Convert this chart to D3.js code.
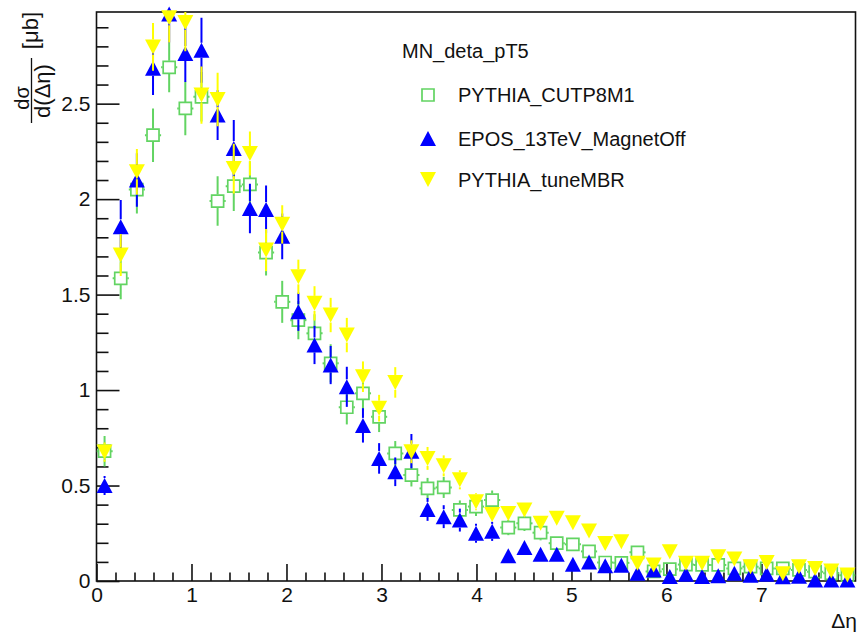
<!DOCTYPE html>
<html>
<head>
<meta charset="utf-8">
<script src="https://cdn.jsdelivr.net/npm/d3@7/dist/d3.min.js"></script>
<style>
  body { margin: 0; background: #fff; }
  svg { display: block; }
  text { font-family: "Liberation Sans", Arial, sans-serif; fill: #111; }
</style>
</head>
<body>
<script>
const width = 858, height = 637;

// histogram binning (47 bins of 0.17 in delta eta)
const binWidth = 0.17;
const nBins = 47;

const seriesNames = ["PYTHIA_CUTP8M1", "EPOS_13TeV_MagnetOff", "PYTHIA_tuneMBR"];
const legendTitle = "MN_deta_pT5";

const cutp8m1 = [0.68, 1.585, 2.05, 2.335, 2.69, 2.475, 2.536, 1.99, 2.068, 2.077,
  1.72, 1.462, 1.366, 1.297, 1.14, 0.91, 0.983, 0.86, 0.668, 0.555,
  0.485, 0.49, 0.372, 0.39, 0.424, 0.28, 0.302, 0.253, 0.198, 0.192,
  0.155, 0.097, 0.095, 0.15, 0.05, 0.062, 0.086, 0.084, 0.084, 0.066,
  0.075, 0.066, 0.066, 0.058, 0.049, 0.04, 0.03];
const cutp8m1Err = [0.08, 0.11, 0.125, 0.14, 0.13, 0.14, 0.13, 0.13, 0.13, 0.12,
  0.12, 0.11, 0.10, 0.10, 0.10, 0.09, 0.09, 0.08, 0.065, 0.06,
  0.055, 0.055, 0.05, 0.05, 0.05, 0.04, 0.04, 0.04, 0.035, 0.035,
  0.03, 0.025, 0.025, 0.03, 0.02, 0.02, 0.025, 0.025, 0.025, 0.02,
  0.02, 0.02, 0.02, 0.02, 0.02, 0.015, 0.015];

const epos = [0.50, 1.855, 2.10, 2.685, 2.97, 2.763, 2.78, 2.44, 2.265, 1.951,
  1.946, 1.805, 1.41, 1.236, 1.131, 1.017, 0.815, 0.642, 0.572, 0.68,
  0.375, 0.337, 0.319, 0.25, 0.26, 0.132, 0.175, 0.14, 0.14, 0.088,
  0.1, 0.08, 0.082, 0.04, 0.058, 0.023, 0.035, 0.023, 0.027, 0.04,
  0.03, 0.035, 0.022, 0.025, 0.005, 0.005, 0.005];
const eposErr = [0.05, 0.14, 0.14, 0.14, 0.15, 0.15, 0.17, 0.13, 0.15, 0.13,
  0.125, 0.12, 0.10, 0.10, 0.10, 0.105, 0.09, 0.08, 0.075, 0.09,
  0.06, 0.06, 0.06, 0.05, 0.05, 0.035, 0.04, 0.035, 0.035, 0.03,
  0.03, 0.025, 0.025, 0.02, 0.02, 0.015, 0.015, 0.015, 0.015, 0.015,
  0.015, 0.015, 0.01, 0.01, 0.005, 0.005, 0.005];

const tuneMBR = [0.675, 1.707, 2.143, 2.797, 2.95, 2.925, 2.545, 2.522, 2.16, 2.239,
  1.733, 1.868, 1.593, 1.454, 1.393, 1.288, 1.07, 0.905, 1.04, 0.677,
  0.642, 0.603, 0.53, 0.415, 0.348, 0.354, 0.372, 0.302, 0.328, 0.305,
  0.262, 0.197, 0.206, 0.093, 0.084, 0.153, 0.093, 0.093, 0.127, 0.115,
  0.075, 0.097, 0.038, 0.075, 0.066, 0.052, 0.031];
const tuneMBRErr = [0.05, 0.11, 0.12, 0.125, 0.13, 0.15, 0.15, 0.14, 0.13, 0.115,
  0.11, 0.10, 0.09, 0.09, 0.09, 0.09, 0.08, 0.07, 0.08, 0.06,
  0.06, 0.055, 0.05, 0.045, 0.04, 0.04, 0.04, 0.035, 0.035, 0.035,
  0.03, 0.025, 0.025, 0.02, 0.02, 0.025, 0.02, 0.02, 0.02, 0.02,
  0.015, 0.02, 0.01, 0.015, 0.015, 0.01, 0.01];

const yMajor = [0, 0.5, 1, 1.5, 2, 2.5];
const xMajor = [0, 1, 2, 3, 4, 5, 6, 7];

const x = d3.scaleLinear()
  .domain([0, nBins * binWidth])
  .range([96.5, 855.5]);

const y = d3.scaleLinear()
  .domain([0, 2.98])
  .range([581, 12]);

const svg = d3.select("body").append("svg")
  .attr("width", width)
  .attr("height", height);

svg.append("rect").attr("width", width).attr("height", height).attr("fill", "#fff");

svg.append("defs").append("clipPath").attr("id", "frame")
  .append("rect")
  .attr("x", x.range()[0]).attr("y", y.range()[1])
  .attr("width", x.range()[1] - x.range()[0])
  .attr("height", y.range()[0] - y.range()[1]);

// axes
const yMinor = d3.range(0, 2.95, 0.1).filter(v => !yMajor.some(m => Math.abs(m - v) < 1e-6));
const xMinor = d3.range(0, 7.9, 0.2).filter(v => !xMajor.some(m => Math.abs(m - v) < 1e-6));

const styleAxis = g => {
  g.select(".domain").remove();
  g.selectAll(".tick line").attr("stroke", "#111").attr("stroke-width", 1.6);
  g.selectAll(".tick text").attr("font-size", 21).attr("fill", "#111");
};

svg.append("g")
  .attr("transform", `translate(${x.range()[0]},0)`)
  .call(d3.axisLeft(y).tickValues(yMinor).tickSize(-12).tickFormat(""))
  .call(styleAxis);

svg.append("g")
  .attr("transform", `translate(${x.range()[0]},0)`)
  .call(d3.axisLeft(y).tickValues(yMajor).tickSize(-23).tickPadding(6).tickFormat(d3.format("")))
  .call(styleAxis);

svg.append("g")
  .attr("transform", `translate(0,${y.range()[0]})`)
  .call(d3.axisBottom(x).tickValues(xMinor).tickSize(-8.5).tickFormat(""))
  .call(styleAxis);

svg.append("g")
  .attr("transform", `translate(0,${y.range()[0]})`)
  .call(d3.axisBottom(x).tickValues(xMajor).tickSize(-17).tickPadding(6).tickFormat(d3.format("d")))
  .call(styleAxis);

// frame
svg.append("rect")
  .attr("x", x.range()[0]).attr("y", y.range()[1])
  .attr("width", x.range()[1] - x.range()[0])
  .attr("height", y.range()[0] - y.range()[1])
  .attr("fill", "none")
  .attr("stroke", "#111")
  .attr("stroke-width", 1.6);

// axis titles
svg.append("text")
  .attr("x", 857).attr("y", 628)
  .attr("text-anchor", "end")
  .attr("font-size", 21)
  .text("Δη");

const yTitle = svg.append("g");
yTitle.append("text")
  .attr("transform", "translate(29,98) rotate(-90)")
  .attr("text-anchor", "middle")
  .attr("font-size", 20)
  .text("dσ");
yTitle.append("line")
  .attr("x1", 31.5).attr("x2", 31.5)
  .attr("y1", 58).attr("y2", 123)
  .attr("stroke", "#111").attr("stroke-width", 1.3);
yTitle.append("text")
  .attr("transform", "translate(50,91) rotate(-90)")
  .attr("text-anchor", "middle")
  .attr("font-size", 22)
  .text("d(Δη)");
yTitle.append("text")
  .attr("transform", "translate(38,12) rotate(-90)")
  .attr("text-anchor", "end")
  .attr("font-size", 22)
  .text("[μb]");

// markers
const squarePath = s => `M${-s / 2},${-s / 2}h${s}v${s}h${-s}Z`;
const triUp = (w, h) => `M0,${-h / 2}L${w / 2},${h / 2}L${-w / 2},${h / 2}Z`;
const triDown = (w, h) => `M0,${h / 2}L${w / 2},${-h / 2}L${-w / 2},${-h / 2}Z`;

const series = [
  { name: seriesNames[0], values: cutp8m1, errors: cutp8m1Err, color: "#62d462",
    path: squarePath(12), half: 6.5, halfW: 6.5, fill: "none", stroke: 1.7 },
  { name: seriesNames[1], values: epos, errors: eposErr, color: "#0000ff",
    path: triUp(16, 15), half: 7.5, halfW: 8, fill: "#0000ff", stroke: 0 },
  { name: seriesNames[2], values: tuneMBR, errors: tuneMBRErr, color: "#ffff00",
    path: triDown(16, 15), half: 7.5, halfW: 8, fill: "#ffff00", stroke: 0 }
];

series.forEach(s => {
  const pts = s.values.map((v, i) => ({
    lo: i * binWidth, hi: (i + 1) * binWidth, c: (i + 0.5) * binWidth, v, e: s.errors[i]
  }));
  const g = svg.append("g");
  const bars = g.append("g").attr("clip-path", "url(#frame)")
    .attr("stroke", s.color).attr("stroke-width", 2);
  pts.forEach(p => {
    const cx = x(p.c), cy = y(p.v);
    const segs = [
      [cx, y(p.v + p.e), cx, cy - s.half],
      [cx, cy + s.half, cx, y(p.v - p.e)],
      [x(p.lo), cy, cx - s.halfW, cy],
      [cx + s.halfW, cy, x(p.hi), cy]
    ];
    segs.forEach(([x1, y1, x2, y2]) => {
      if (Math.hypot(x2 - x1, y2 - y1) > 0.5 && (y2 >= y1) && (x2 >= x1)) {
        bars.append("line").attr("x1", x1).attr("y1", y1).attr("x2", x2).attr("y2", y2);
      }
    });
  });
  g.append("g").selectAll("path")
    .data(pts)
    .join("path")
    .attr("transform", p => `translate(${x(p.c)},${y(p.v)})`)
    .attr("d", s.path)
    .attr("fill", s.fill)
    .attr("stroke", s.stroke ? s.color : "none")
    .attr("stroke-width", s.stroke);
});

// legend
const legend = svg.append("g");
legend.append("text")
  .attr("x", 402).attr("y", 58)
  .attr("font-size", 20)
  .text(legendTitle);

const legendRows = [95, 138.5, 179.5];
series.forEach((s, i) => {
  legend.append("path")
    .attr("transform", `translate(428,${legendRows[i]})`)
    .attr("d", s.path)
    .attr("fill", s.fill)
    .attr("stroke", s.stroke ? s.color : "none")
    .attr("stroke-width", s.stroke);
  legend.append("text")
    .attr("x", 458).attr("y", legendRows[i] + 7)
    .attr("font-size", 20)
    .text(s.name);
});
</script>
</body>
</html>
